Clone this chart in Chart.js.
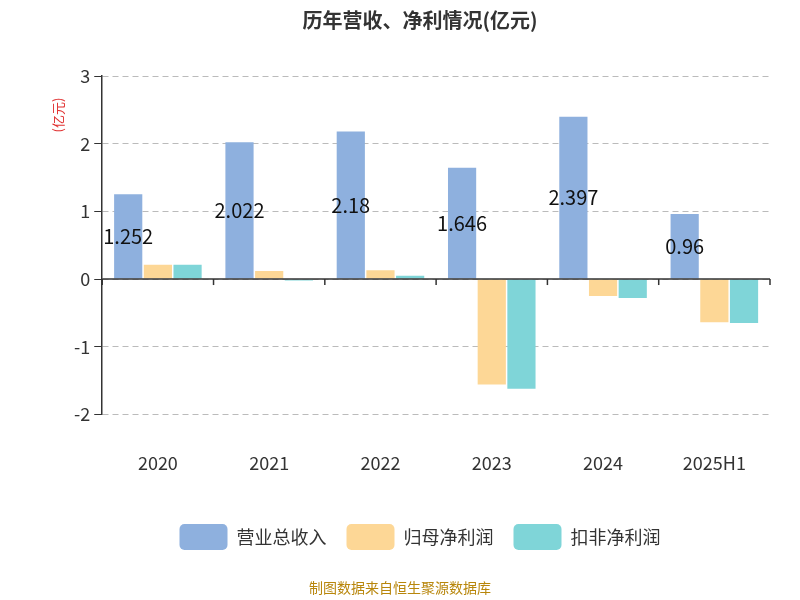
<!DOCTYPE html><html><head><meta charset="utf-8">
<script src="https://cdn.jsdelivr.net/npm/chart.js@4/dist/chart.umd.min.js"></script>
<style>body{margin:0;background:#fff}</style></head><body><canvas id="c" width="800" height="600"></canvas>
<script>
const categories=['2020','2021','2022','2023','2024','2025H1'];
const revenue=[1.252,2.022,2.18,1.646,2.397,0.96];
const netProfit=[0.21,0.12,0.13,-1.56,-0.25,-0.64];
const deductedProfit=[0.21,-0.02,0.05,-1.62,-0.28,-0.65];
const yTicks=[-2,-1,0,1,2,3];
const F='"Noto Sans CJK SC","Noto Sans",sans-serif';
const deco={id:'deco',afterDatasetsDraw(ch){
 const c=ch.ctx,x=ch.scales.x,y=ch.scales.y,a=ch.chartArea;
 c.save();
 const y0=y.getPixelForValue(0);
 c.strokeStyle='#333';c.lineWidth=1.5;
 c.beginPath();c.moveTo(a.left,y0);c.lineTo(a.right,y0);c.stroke();
 const w=(a.right-a.left)/categories.length;
 for(let i=0;i<=categories.length;i++){const px=a.left+i*w;c.beginPath();c.moveTo(px,y0);c.lineTo(px,y0+6);c.stroke();}
 c.font='20px '+F;c.fillStyle='#111';c.textAlign='center';c.textBaseline='middle';
 const m=ch.getDatasetMeta(0);
 m.data.forEach((b,i)=>{c.fillText(String(revenue[i]),b.x,(b.y+b.base)/2);});
 c.font='14px '+F;c.fillStyle='#b8860b';c.fillText('制图数据来自恒生聚源数据库',400,588);
 c.save();c.translate(58,115);c.rotate(-Math.PI/2);c.fillStyle='#e03030';c.font='13px '+F;c.fillText('(亿元)',0,0);c.restore();
 c.restore();}};
new Chart(document.getElementById('c'),{type:'bar',
data:{labels:categories,datasets:[
 {label:'营业总收入',data:revenue,backgroundColor:'#8eb0de'},
 {label:'归母净利润',data:netProfit,backgroundColor:'#fdd796'},
 {label:'扣非净利润',data:deductedProfit,backgroundColor:'#7fd5d8'}]},
options:{responsive:false,animation:false,devicePixelRatio:1,
 layout:{padding:{left:70,right:30,top:0,bottom:40}},
 datasets:{bar:{categoryPercentage:0.8,barPercentage:0.95}},
 plugins:{title:{display:true,text:'历年营收、净利情况(亿元)',font:{family:F,size:20,weight:'bold'},color:'#333',padding:{top:8,bottom:44}},
  legend:{position:'bottom',labels:{font:{family:F,size:18},color:'#333',boxWidth:48,boxHeight:26,padding:20,useBorderRadius:true,borderRadius:5}},
  tooltip:{enabled:false}},
 scales:{x:{grid:{display:false},border:{display:false},ticks:{font:{family:F,size:18},color:'#333',padding:30}},
  y:{min:-2,max:3,afterBuildTicks:s=>{s.ticks=yTicks.map(v=>({value:v}));},
   grid:{color:'#bbb',tickColor:'#333',tickLength:8,drawTicks:true},border:{dash:[6,4],color:'#333',width:1.5},
   ticks:{font:{family:F,size:18},color:'#333',padding:4}}}},
plugins:[deco]});
</script></body></html>
